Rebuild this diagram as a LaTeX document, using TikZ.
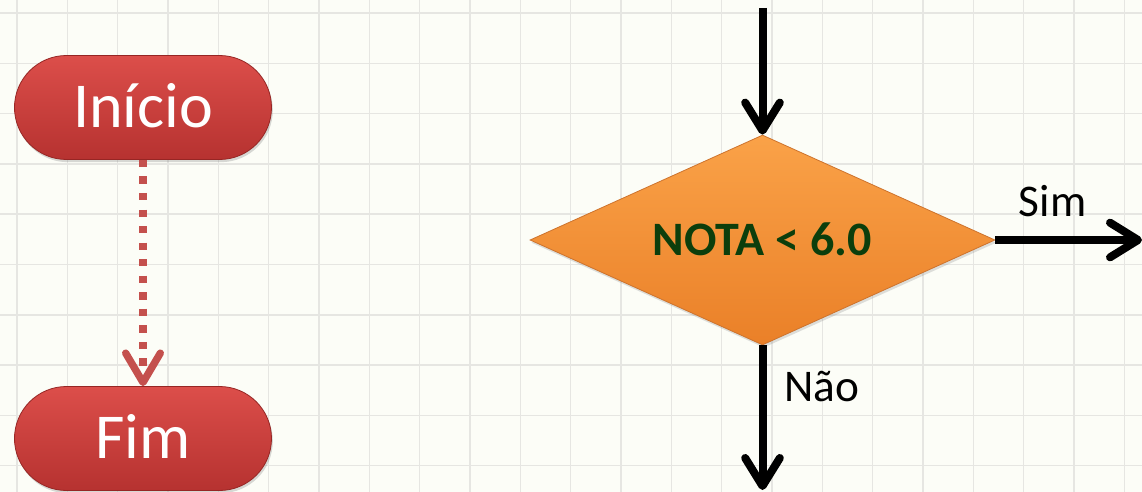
\documentclass[tikz,border=0pt]{standalone}
\usepackage{fontspec}
\setmainfont{Carlito}
\usetikzlibrary{shapes.geometric,arrows.meta,shadows}
\definecolor{bgcol}{RGB}{252,253,247}
\definecolor{gridcol}{RGB}{230,230,226}
\definecolor{redtop}{RGB}{220,78,74}
\definecolor{redbot}{RGB}{182,50,48}
\definecolor{redline}{RGB}{150,38,36}
\definecolor{dashcol}{RGB}{196,80,77}
\definecolor{orangetop}{RGB}{250,162,72}
\definecolor{orangebot}{RGB}{234,128,40}
\definecolor{orangeline}{RGB}{205,115,45}
\definecolor{notagreen}{RGB}{12,62,12}
\begin{document}
\begin{tikzpicture}[x=0.75pt,y=-0.75pt,
  gridline/.style={draw=gridcol,line width=1.1pt},
  term/.style={rectangle,rounded corners=39pt,minimum width=192.75pt,minimum height=78pt,
    top color=redtop,bottom color=redbot,draw=redline,line width=0.6pt,
    drop shadow={opacity=0.3,shadow xshift=1pt,shadow yshift=-2pt},
    text=white,font=\fontsize{48}{56}\selectfont,text height=30.3pt,text depth=0pt,inner sep=0pt},
  decision/.style={diamond,aspect=2.2,minimum width=348.75pt,minimum height=157.5pt,inner sep=0pt,
    top color=orangetop,bottom color=orangebot,draw=orangeline,line width=0.6pt,
    drop shadow={opacity=0.25,shadow xshift=1pt,shadow yshift=-2pt},
    text=notagreen,font=\fontsize{36}{42}\selectfont\bfseries,text height=22.8pt,text depth=0pt},
  lbl/.style={inner sep=0pt,font=\fontsize{34}{40}\selectfont,text height=21.5pt,text depth=0pt},
  flow/.style={draw=black,line width=6pt,-{Straight Barb[length=21pt,width=26pt,round]}},
  dashflow/.style={draw=dashcol,line width=5.5pt,dash pattern=on 5.5pt off 6.9pt,
    -{Straight Barb[length=22pt,width=26pt,round]}}
]
\useasboundingbox (0,0) rectangle (1142,492);
\fill[bgcol] (0,0) rectangle (1142,492);
\foreach \i in {0,...,22} \draw[gridline] ({17+50.33*\i},0) -- ({17+50.33*\i},492);
\foreach \j in {0,...,9} \draw[gridline] (0,{13+50.3*\j}) -- (1142,{13+50.3*\j});

\node[term] (ini) at (143,107.5) {Início};
\node[term] (fim) at (143,438.5) {Fim};
\draw[dashflow] (ini.south) -- (fim.north);

\node[decision] (dec) at (762.5,240) {NOTA < 6.0};
\coordinate (topin) at (762.5,8);
\coordinate (yesend) at (1142,240);
\coordinate (noend) at (762.5,490);
\draw[flow] (topin) -- (dec.north);
\draw[flow] (dec.east) -- (yesend);
\draw[flow] (dec.south) -- (noend);
\node[lbl] (sim) at (1052.7,201.7) {Sim};
\node[lbl] (nao) at (822,387.5) {Não};
\end{tikzpicture}
\end{document}
